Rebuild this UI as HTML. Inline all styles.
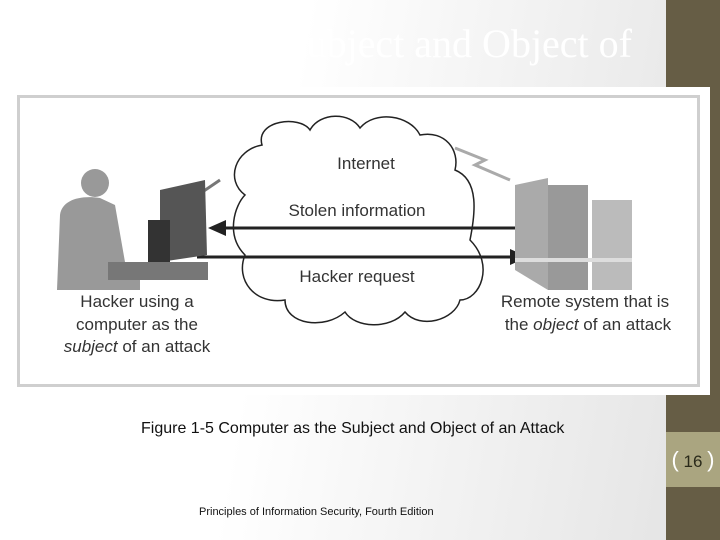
<!DOCTYPE html>
<html><head><style>
body{margin:0;width:720px;height:540px;overflow:hidden;position:relative;font-family:"Liberation Sans",sans-serif;
background:linear-gradient(100deg,#fff 0%,#fff 38%,#e6e6e6 92%);}
.bar{position:absolute;left:666px;top:0;width:54px;height:540px;background:#665d45}
.num{position:absolute;left:666px;top:432px;width:54px;height:55px;background:#aaa580;color:#2a2a1a;font-size:17px;text-align:center;line-height:55px}
.title{position:absolute;right:88px;top:20px;font-family:"Liberation Serif",serif;font-size:40px;color:#fff;white-space:nowrap}
.img{position:absolute;left:10px;top:87px;width:700px;height:308px;background:#fff}
.box{position:absolute;left:17px;top:95px;width:677px;height:286px;border:3px solid #cfcfcf;background:#fff}
.cap{position:absolute;left:141px;top:420px;font-size:16px;color:#111}
.foot{position:absolute;left:199px;top:506px;font-size:11px;color:#111}
</style></head><body>
<div class="title">Computer as Subject and Object of</div>
<div class="bar"></div>
<div class="num"><span style="color:#fff;font-size:22px">(</span> 16 <span style="color:#fff;font-size:22px">)</span></div>
<div class="img"></div>
<div class="box"></div>
<svg style="position:absolute;left:0;top:0" width="720" height="540">
<path d="M262,145 C255,120 300,115 310,130 C320,112 350,112 360,128 C375,110 410,115 420,135 C445,130 460,150 455,170 C480,180 475,215 470,240 C495,265 480,300 460,300 C455,320 420,330 405,312 C390,330 355,328 345,312 C325,330 285,325 285,300 C255,305 235,280 245,255 C225,235 235,205 245,195 C225,180 235,150 262,145Z" fill="#fff" stroke="#222" stroke-width="1.5"/>
<path d="M455,148 L485,160 L475,165 L510,180" fill="none" stroke="#aaa" stroke-width="3"/>
<path d="M180,198 L200,185 L198,195 L220,180" fill="none" stroke="#777" stroke-width="3"/>
<line x1="222" y1="228" x2="518" y2="228" stroke="#222" stroke-width="3"/>
<polygon points="208,228 226,220 226,236" fill="#222"/>
<line x1="197" y1="257" x2="512" y2="257" stroke="#222" stroke-width="3"/>
<polygon points="528,257 510,249 510,265" fill="#222"/>
<g fill="#999">
<circle cx="95" cy="183" r="14"/>
<path d="M60,215 C62,200 80,195 100,198 L115,205 L125,262 L140,268 L140,290 L57,290Z"/>
<rect x="108" y="262" width="100" height="18" fill="#777"/>
</g>
<path d="M160,190 L205,180 L207,255 L160,262Z" fill="#555"/>
<rect x="148" y="220" width="22" height="42" fill="#333"/>
<g>
<path d="M515,185 L548,178 L548,290 L515,270Z" fill="#aaa"/>
<rect x="548" y="185" width="40" height="105" fill="#999"/>
<rect x="592" y="200" width="40" height="90" fill="#bbb"/>
<rect x="515" y="258" width="117" height="4" fill="#ddd"/>
</g>
<g font-size="17" fill="#333" font-family="Liberation Sans Narrow,Liberation Sans,sans-serif" text-anchor="middle">
<text x="366" y="169">Internet</text>
<text x="357" y="216">Stolen information</text>
<text x="357" y="282">Hacker request</text>
<text x="137" y="307">Hacker using a</text>
<text x="137" y="330">computer as the</text>
<text x="137" y="352"><tspan font-style="italic">subject</tspan> of an attack</text>
<text x="585" y="307">Remote system that is</text>
<text x="588" y="330">the <tspan font-style="italic">object</tspan> of an attack</text>
</g>
</svg>
<div class="cap">Figure 1-5 Computer as the Subject and Object of an Attack</div>
<div class="foot">Principles of Information Security, Fourth Edition</div>
</body></html>
